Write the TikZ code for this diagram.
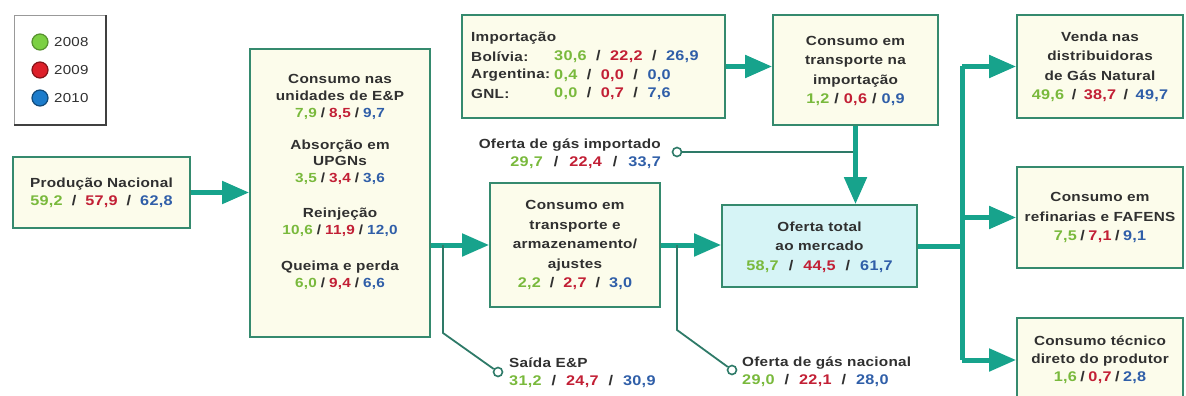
\documentclass[tikz,border=0pt]{standalone}
\usepackage{fontspec}
\setmainfont[FakeStretch=1.16,LetterSpace=2]{Liberation Sans}
\usetikzlibrary{arrows.meta}
\definecolor{bord}{HTML}{358A6E}
\definecolor{arr}{HTML}{17A38C}
\definecolor{thin}{HTML}{2E7A68}
\definecolor{cream}{HTML}{FCFCEB}
\definecolor{cyanf}{HTML}{D6F4F6}
\definecolor{cg}{HTML}{79B93C}
\definecolor{cr}{HTML}{C21F35}
\definecolor{cb}{HTML}{2F5EA8}
\definecolor{txt}{HTML}{303030}
\definecolor{lg}{HTML}{7CD043}
\definecolor{lr}{HTML}{DD1F2A}
\definecolor{lb}{HTML}{1C7CCB}
\newcommand\tri[4][8pt]{{\fontsize{14pt}{\the\baselineskip}\selectfont{\color{cg}#2}\hspace{#1}/\hspace{#1}{\color{cr}#3}\hspace{#1}/\hspace{#1}{\color{cb}#4}}}
\newcommand\trs[4][4pt]{{\color{cg}#2}\hspace{#1}/\hspace{#1}{\color{cr}#3}\hspace{#1}/\hspace{#1}{\color{cb}#4}}
\tikzset{
  box/.style={draw=bord, line width=1.8pt, fill=cream, inner sep=0pt},
  lbl/.style={font=\bfseries\fontsize{13.2}{19.5}\selectfont, text=txt, align=center, inner sep=0pt},
  tight/.style={font=\bfseries\fontsize{13.2}{16.6}\selectfont},
  mid/.style={font=\bfseries\fontsize{13.2}{18}\selectfont},
  big/.style={draw=arr, line width=5pt, -{Triangle[length=27pt,width=22pt]}},
  trunk/.style={draw=arr, line width=5pt},
  br/.style={draw=thin, line width=1.8pt},
  dot/.style={circle, draw=thin, line width=1.6pt, fill=white, minimum size=9pt, inner sep=0pt},
  leg/.style={circle, minimum size=16pt, inner sep=0pt, line width=1.2pt},
  legt/.style={anchor=west, font=\fontsize{13}{15}\selectfont, text=txt, inner sep=0pt},
}
\begin{document}
\begin{tikzpicture}[x=1pt,y=-1pt]
\useasboundingbox (0,0) rectangle (1186,396);
% legend
\node[draw=gray!80, line width=1pt, fill=white, minimum width=91pt, minimum height=108pt, inner sep=0pt] (legbox) at (59.5,70) {};
\draw[black!75, line width=2pt] (legbox.north east) -- (legbox.south east) -- (legbox.south west);
\node[leg, fill=lg, draw=lg!70!black] (l1) at (40,42) {};
\node[leg, fill=lr, draw=lr!60!black] (l2) at (40,70) {};
\node[leg, fill=lb, draw=lb!60!black] (l3) at (40,98) {};
\node[legt] (t1) at (54,42) {2008};
\node[legt] (t2) at (54,70) {2009};
\node[legt] (t3) at (54,98) {2010};
% boxes
\node[box, minimum width=177pt, minimum height=71pt] (prod) at (101.5,192.5) {};
\node[lbl, mid] (prodt) at (101.5,192.5) {Produção Nacional\\ \tri[9pt]{59,2}{57,9}{62,8}};
\node[box, minimum width=180pt, minimum height=288pt] (ep) at (340,193) {};
\node[lbl, tight] (ep1) at (340,97) {Consumo nas\\unidades de E\&P\\ \trs{7,9}{8,5}{9,7}};
\node[lbl, tight] (ep2) at (340,162) {Absorção em\\UPGNs\\ \trs{3,5}{3,4}{3,6}};
\node[lbl, tight] (ep3) at (340,222.5) {Reinjeção\\ \trs{10,6}{11,9}{12,0}};
\node[lbl, tight] (ep4) at (340,275) {Queima e perda\\ \trs{6,0}{9,4}{6,6}};
\node[box, minimum width=263pt, minimum height=103pt] (imp) at (593.5,66.5) {};
\node[lbl, anchor=west] (imp0) at (471,38) {Importação};
\node[lbl, anchor=west] (imp1) at (471,57) {Bolívia:};
\node[lbl, anchor=west] (imp2) at (471,75.5) {Argentina:};
\node[lbl, anchor=west] (imp3) at (471,94) {GNL:};
\node[lbl, anchor=west] (imp1v) at (554,57) {\tri[9.5pt]{30,6}{22,2}{26,9}};
\node[lbl, anchor=west] (imp2v) at (554,75.5) {\tri[9.5pt]{0,4}{0,0}{0,0}};
\node[lbl, anchor=west] (imp3v) at (554,94) {\tri[9.5pt]{0,0}{0,7}{7,6}};
\node[box, minimum width=165pt, minimum height=110pt] (cimp) at (855.5,70) {};
\node[lbl] (cimpt) at (855.5,71) {Consumo em\\transporte na\\importação\\ \tri[5pt]{1,2}{0,6}{0,9}};
\node[box, minimum width=170pt, minimum height=124pt] (ctr) at (575,245) {};
\node[lbl] (ctrt) at (575,245) {Consumo em\\transporte e\\armazenamento/\\ajustes\\ \tri[9pt]{2,2}{2,7}{3,0}};
\node[box, fill=cyanf, minimum width=195pt, minimum height=82pt] (of) at (819.5,246) {};
\node[lbl] (oft) at (819.5,247) {Oferta total\\ao mercado\\ \tri[10pt]{58,7}{44,5}{61,7}};
\node[box, minimum width=166pt, minimum height=103pt] (venda) at (1100,66.5) {};
\node[lbl] (vendat) at (1100,67) {Venda nas\\distribuidoras\\de Gás Natural\\ \tri[7.5pt]{49,6}{38,7}{49,7}};
\node[box, minimum width=166pt, minimum height=101pt] (refi) at (1100,217.5) {};
\node[lbl] (refit) at (1100,217.5) {Consumo em\\refinarias e FAFENS\\ \tri[3.5pt]{7,5}{7,1}{9,1}};
\node[box, minimum width=166pt, minimum height=84pt] (tec) at (1100,360) {};
\node[lbl, mid] (tect) at (1100,359.5) {Consumo técnico\\direto do produtor\\ \tri[3.5pt]{1,6}{0,7}{2,8}};
% free labels
\node[lbl, mid, anchor=east, align=right] (oimpt) at (661,154) {Oferta de gás importado\\ \tri[11pt]{29,7}{22,4}{33,7}};
\node[lbl, mid, anchor=west, align=left] (saidat) at (509,373) {Saída E\&P\\ \tri[10pt]{31,2}{24,7}{30,9}};
\node[lbl, mid, anchor=west, align=left] (onact) at (742,372) {Oferta de gás nacional\\ \tri[10pt]{29,0}{22,1}{28,0}};
% coordinates
\coordinate (b1) at (443,245);
\coordinate (b1d) at (443,333);
\coordinate (b2) at (677,245);
\coordinate (b2d) at (677,330);
\coordinate (j) at (962,246);
\node[dot] (c1) at (498,372) {};
\node[dot] (c2) at (732,370) {};
\node[dot] (c3) at (677,152) {};
% connectors
\draw[big] (prod.east) -- (prod.east -| ep.west);
\draw[big] (ep.east |- ctr.west) -- (ctr.west);
\draw[big] (ctr.east) -- (ctr.east -| of.west);
\draw[big] (imp.east) -- (imp.east -| cimp.west);
\draw[br] (c3) -- (c3 -| cimp.south);
\draw[big] (cimp.south) -- (cimp.south |- of.north);
\draw[br] (b1) -- (b1d) -- (c1);
\draw[br] (b2) -- (b2d) -- (c2);
\draw[trunk] (of.east |- j) -- (j);
\draw[trunk] (j |- venda.west) -- (j |- tec.west);
\draw[big] (j |- venda.west) -- (venda.west);
\draw[big] (j |- refi.west) -- (refi.west);
\draw[big] (j |- tec.west) -- (tec.west);
\end{tikzpicture}
\end{document}
